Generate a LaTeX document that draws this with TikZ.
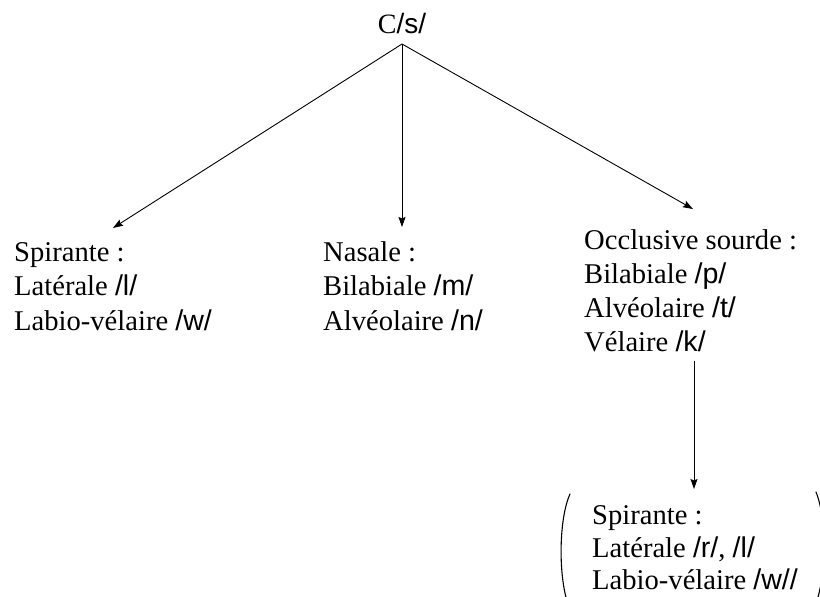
\documentclass[tikz,border=0pt]{standalone}
\usepackage{fontspec}
\setmainfont{Liberation Serif}
\newfontfamily\ipafont{Liberation Sans}
\usetikzlibrary{arrows.meta}
\newcommand\phon[1]{{\ipafont #1}}
\begin{document}
\begin{tikzpicture}[x=1pt,y=-1pt,
  txt/.style={inner sep=0pt,anchor=base west,font=\fontsize{28.6}{34}\selectfont},
  link/.style={line width=0.9pt,-{Stealth[length=10pt,width=7pt,inset=1.5pt]}},
  paren/.style={line width=1.1pt,line cap=round}]
\useasboundingbox (0,0) rectangle (820,597);

% root
\node[inner sep=0pt,anchor=base,font=\fontsize{28}{34}\selectfont] (root) at (402,33) {C\phon{/s/}};
\coordinate (hub) at (402,44);

% left column
\node[txt] (l1) at (14,261) {Spirante :};
\node[txt] (l2) at (14,295) {Latérale \phon{/l/}};
\node[txt] (l3) at (14,330) {Labio-vélaire \phon{/w/}};

% middle column
\node[txt] (m1) at (323,261) {Nasale :};
\node[txt] (m2) at (323,295) {Bilabiale \phon{/m/}};
\node[txt] (m3) at (323,330) {Alvéolaire \phon{/n/}};

% right column
\node[txt] (r1) at (584,249) {Occlusive sourde :};
\node[txt] (r2) at (584,283) {Bilabiale \phon{/p/}};
\node[txt] (r3) at (584,317) {Alvéolaire \phon{/t/}};
\node[txt] (r4) at (584,351) {Vélaire \phon{/k/}};

% bottom group
\node[txt] (b1) at (592,524) {Spirante :};
\node[txt] (b2) at (592,557) {Latérale \phon{/r/}, \phon{/l/}};
\node[txt] (b3) at (592,589) {Labio-vélaire \phon{/w//}};

% arrow ends
\coordinate (tipL) at (113,228);
\coordinate (tipM) at (402,227);
\coordinate (tipR) at (693,209);
\coordinate (vtop) at (694,361);
\coordinate (tipB) at (694,489);

\draw[link] (hub) -- (tipL);
\draw[link] (hub) -- (tipM);
\draw[link] (hub) -- (tipR);
\draw[link] (vtop) -- (tipB);

% brackets round the bottom group
\begin{scope}
\clip (0,0) rectangle (820,597);
\draw[paren] (570,494) .. controls (559,518) and (558,575) .. (568,604);
\draw[paren] (816,492) .. controls (827,520) and (827,570) .. (816,604);
\end{scope}
\end{tikzpicture}
\end{document}
